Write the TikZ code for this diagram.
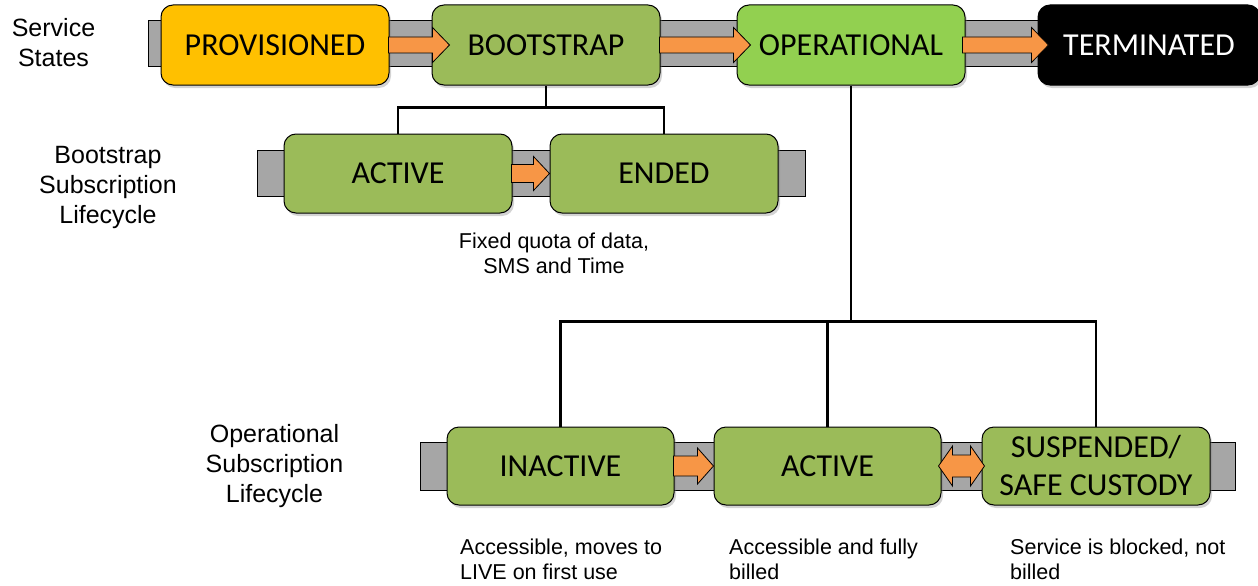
\documentclass[tikz,border=0pt]{standalone}
\usepackage{fontspec}
\setmainfont{Liberation Sans}
\newfontfamily\boxfont{Carlito}
\usetikzlibrary{calc,shadows}
\definecolor{provc}{HTML}{FFC000}
\definecolor{bootc}{HTML}{9BBB59}
\definecolor{opc}{HTML}{92D050}
\definecolor{barc}{HTML}{A6A6A6}
\definecolor{arrc}{HTML}{F79646}
% #1 start, #2 tip, #3 body half width, #4 head half width, #5 head length
\newcommand\fatarrow[5]{%
  \path[fat] let \p1=#1, \p2=#2 in
    (\x1,\y2+#3pt) -- (\x2-#5pt,\y2+#3pt) -- (\x2-#5pt,\y2+#4pt) -- (\x2,\y2)
    -- (\x2-#5pt,\y2-#4pt) -- (\x2-#5pt,\y2-#3pt) -- (\x1,\y2-#3pt) -- cycle;}
\newcommand\fatdarrow[5]{%
  \path[fat] let \p1=#1, \p2=#2 in
    (\x1,\y2) -- (\x1+#5pt,\y2+#4pt) -- (\x1+#5pt,\y2+#3pt) -- (\x2-#5pt,\y2+#3pt)
    -- (\x2-#5pt,\y2+#4pt) -- (\x2,\y2) -- (\x2-#5pt,\y2-#4pt) -- (\x2-#5pt,\y2-#3pt)
    -- (\x1+#5pt,\y2-#3pt) -- (\x1+#5pt,\y2-#4pt) -- cycle;}
\begin{document}
\begin{tikzpicture}[x=1pt,y=-1pt,
  state/.style={draw=black, line width=1pt, rounded corners=12pt,
    minimum width=228pt, minimum height=80pt, inner sep=0pt, align=center,
    font=\boxfont\fontsize{32}{38}\selectfont,
    drop shadow={opacity=0.35, shadow xshift=2pt, shadow yshift=-3pt}},
  bar/.style={draw=black, line width=1pt, fill=barc, inner sep=0pt},
  lbl/.style={font=\fontsize{25}{30}\selectfont, align=center, inner sep=0pt},
  note/.style={font=\fontsize{21.5}{25}\selectfont, align=left, inner sep=0pt},
  link/.style={line width=2.5pt},
  fat/.style={draw=black, line width=0.8pt, fill=arrc}]
\useasboundingbox (0,0) rectangle (1258,586);

% gray bars
\node[bar, minimum width=892pt, minimum height=46pt] (topbar) at (594,44) {};
\node[bar, minimum width=548pt, minimum height=46pt] (bootbar) at (531,173) {};
\node[bar, minimum width=815pt, minimum height=48pt] (opbar) at (827.5,466) {};

% service states
\node[state, fill=provc] (prov) at (275,45) {PROVISIONED};
\node[state, fill=bootc] (boot) at (546,45) {BOOTSTRAP};
\node[state, fill=opc] (oper) at (851,45) {OPERATIONAL};
\node[state, fill=black, text=white, minimum width=222pt] (term) at (1149,45) {TERMINATED};

% bootstrap lifecycle
\node[state, fill=bootc, minimum height=79pt] (bact) at (398,173.5) {ACTIVE};
\node[state, fill=bootc, minimum height=79pt] (bend) at (664,173.5) {ENDED};

% operational lifecycle
\node[state, fill=bootc, minimum width=227pt, minimum height=78pt] (inact) at (560.5,466) {INACTIVE};
\node[state, fill=bootc, minimum width=227pt, minimum height=78pt] (oact) at (827.5,466) {ACTIVE};
\node[state, fill=bootc, minimum height=78pt] (susp) at (1096,466) {SUSPENDED/\\SAFE CUSTODY};

% arrows
\fatarrow{($(prov.east)+(-1,0)$)}{($(boot.west)+(18,0)$)}{8}{17.5}{17}
\fatarrow{($(boot.east)+(-1,0)$)}{($(oper.west)+(14,0)$)}{8}{17.5}{17}
\fatarrow{($(oper.east)+(-3,0)$)}{($(term.west)+(11,0)$)}{8}{17.5}{17}
\fatarrow{($(bact.east)+(-1,0)$)}{(bend.west)}{9}{17}{16}
\fatarrow{($(inact.east)+(-1,0)$)}{(oact.west)}{10}{18}{16}
\fatdarrow{($(oact.east)+(-3,0)$)}{($(susp.west)+(3,0)$)}{11}{20}{14}

% connectors
\coordinate (bj) at ($(boot.south)+(0,22)$);
\draw[link] (boot.south) -- (bj);
\draw[link] (bact.north) |- (bj) -| (bend.north);
\coordinate (oj) at ($(oper.south)+(0,236)$);
\draw[link] (oper.south) -- (oj);
\draw[link] (inact.north) |- (oj) -| (susp.north);
\draw[link] (oact.north) -- (oact.north |- oj);

% labels
\node[lbl] (lss) at (53.5,43) {Service\\States};
\node[lbl] (lbs) at (108,187) {Bootstrap\\Subscription\\Lifecycle};
\node[lbl] (los) at (274.5,466) {Operational\\Subscription\\Lifecycle};
\node[note, align=center] (nb) at (554,253) {Fixed quota of data,\\SMS and Time};
\node[note, anchor=north west] (n1) at (460,539) {Accessible, moves to\\LIVE on first use};
\node[note, anchor=north west] (n2) at (729,539) {Accessible and fully\\billed};
\node[note, anchor=north west] (n3) at (1010,539) {Service is blocked, not\\billed};
\end{tikzpicture}
\end{document}
